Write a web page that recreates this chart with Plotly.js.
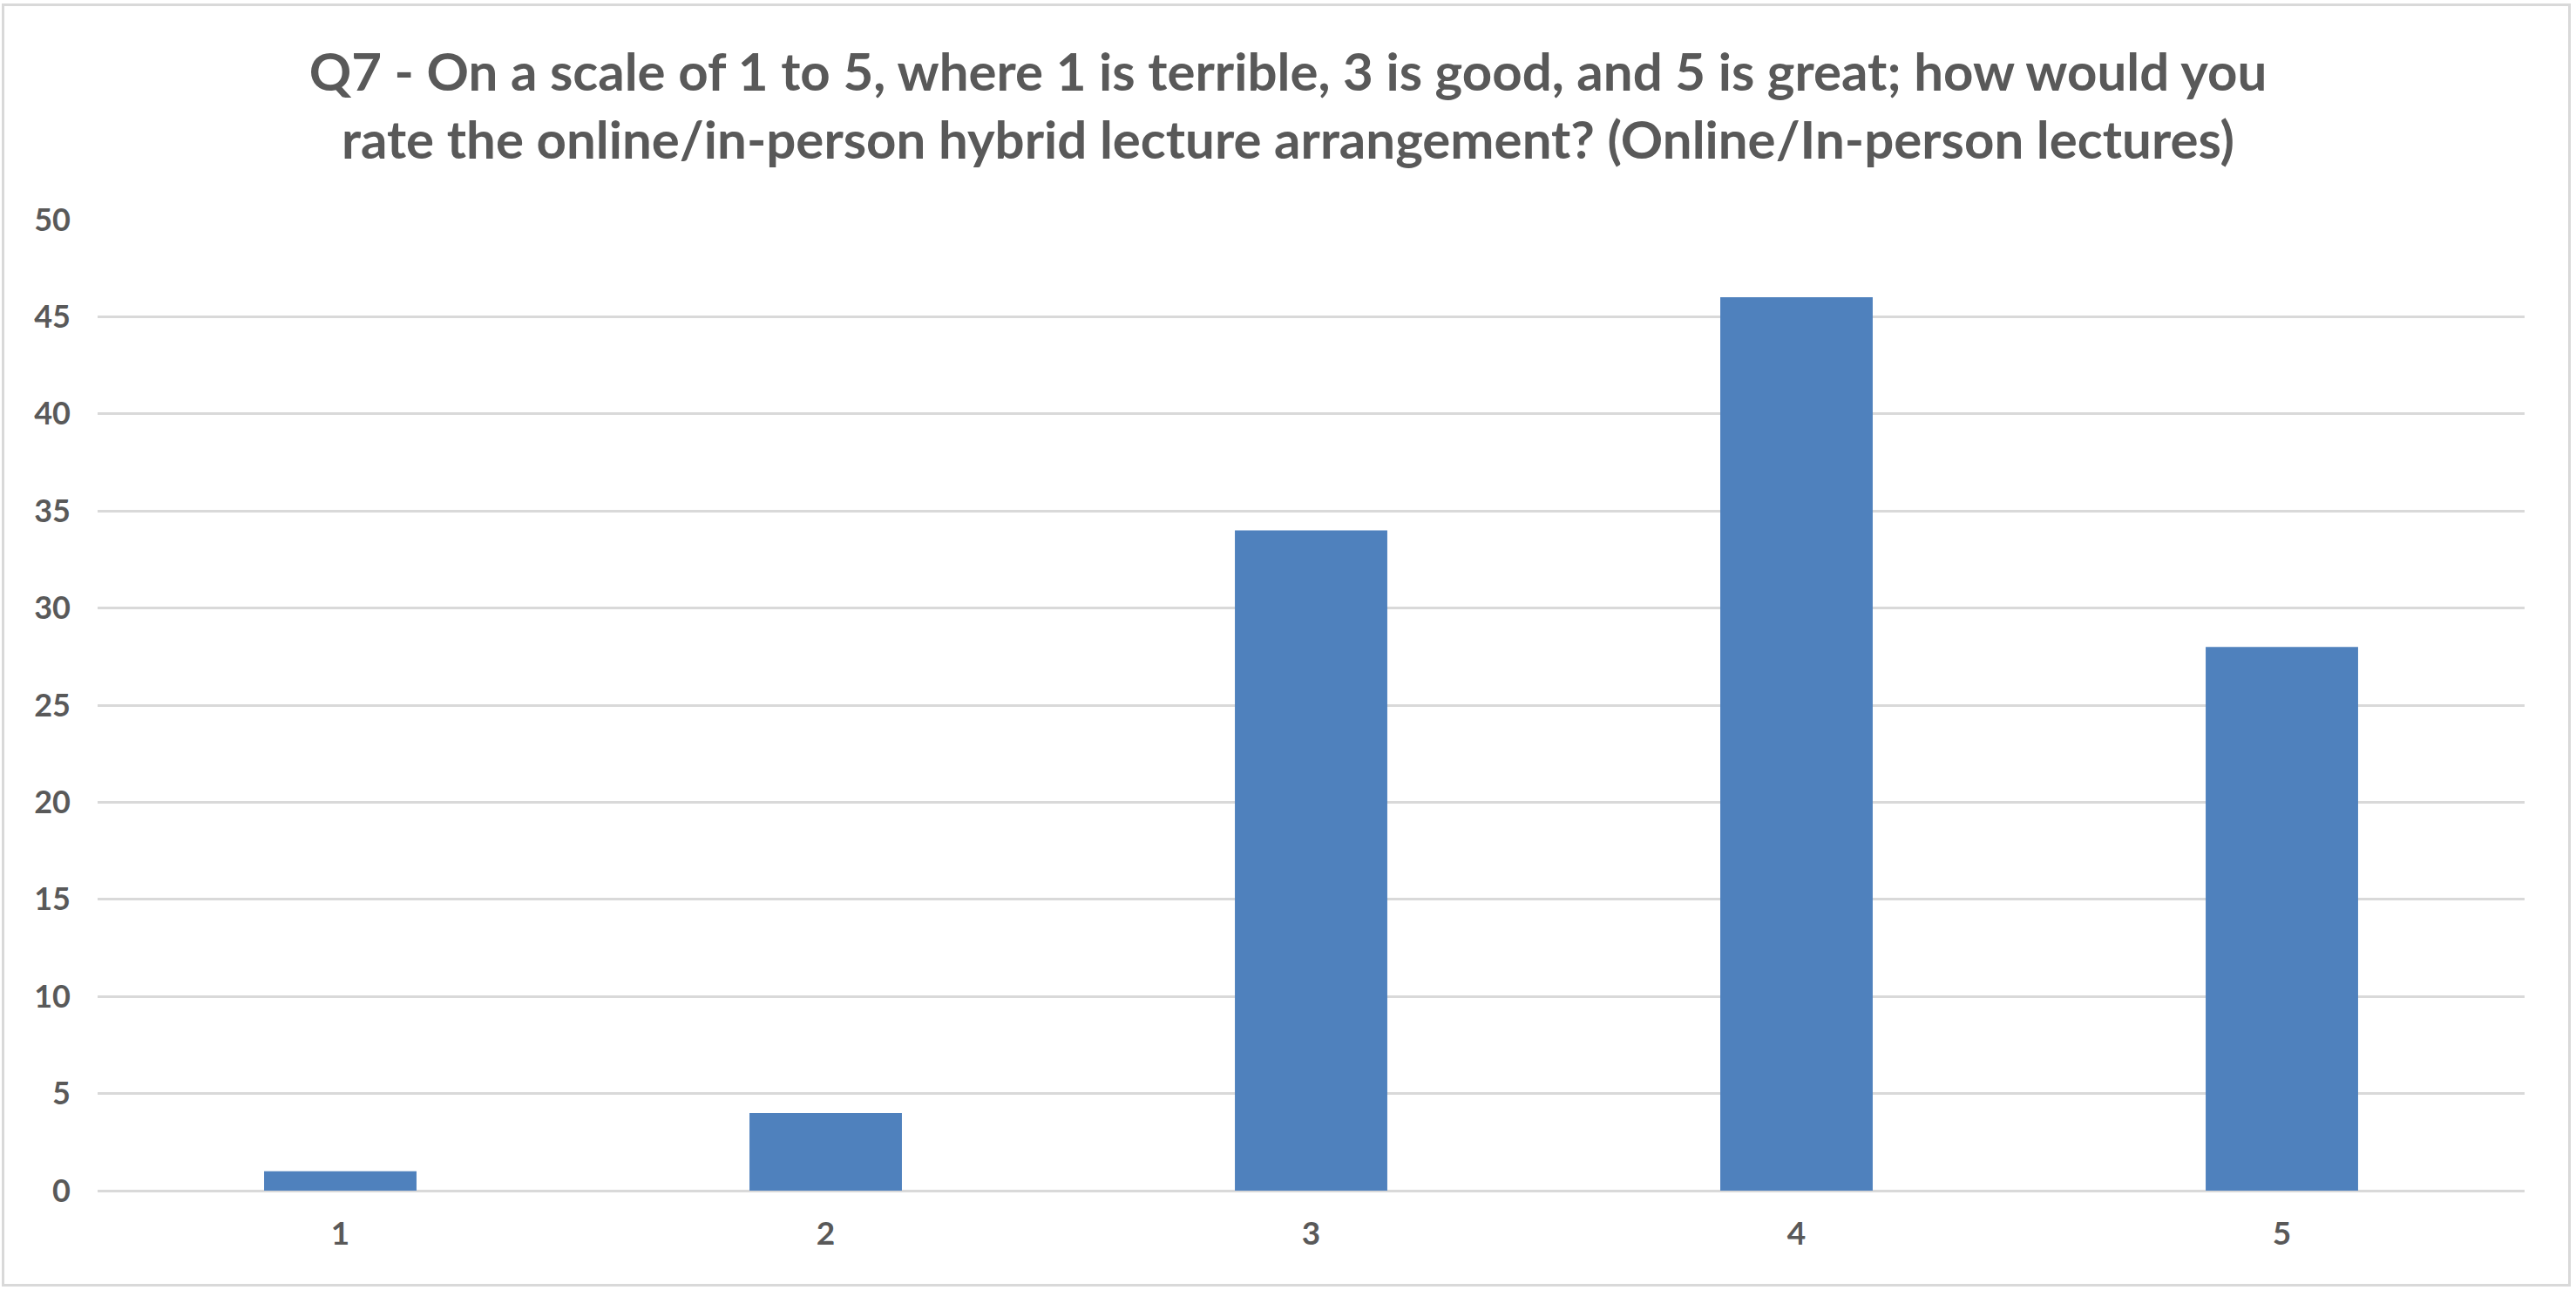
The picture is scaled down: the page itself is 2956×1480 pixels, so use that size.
<!DOCTYPE html>
<html>
<head>
<meta charset="utf-8">
<script src="https://cdn.plot.ly/plotly-3.0.1.min.js"></script>
<style>
  html, body { margin: 0; padding: 0; background: #ffffff; }
  #wrap { position: relative; width: 2956px; height: 1480px; }
  #chart { position: absolute; left: 0; top: 0; width: 2956px; height: 1480px; }
  #frame { position: absolute; left: 2px; top: 4px; width: 2942px; height: 1466px;
           border: 3px solid #d9d9d9; pointer-events: none; }
</style>
</head>
<body>
<div id="wrap">
  <div id="chart"></div>
  <div id="frame"></div>
</div>
<script>
const categories = ["1", "2", "3", "4", "5"];
const counts = [1, 4, 34, 46, 28];
const yTicks = [0, 5, 10, 15, 20, 25, 30, 35, 40, 45, 50];
const titleText = "Q7 - On a scale of 1 to 5, where 1 is terrible, 3 is good, and 5 is great; how would you<br>rate the online/in-person hybrid lecture arrangement? (Online/In-person lectures)";

const textColor = "#595959";
const fontFam = "Lato, 'Open Sans', sans-serif";

const data = [{
  type: "bar",
  x: categories,
  y: counts,
  marker: { color: "#4f81bd", line: { width: 0 } },
  hoverinfo: "x+y"
}];

const layout = {
  width: 2956,
  height: 1480,
  paper_bgcolor: "#ffffff",
  plot_bgcolor: "#ffffff",
  margin: { l: 112, r: 59, t: 252, b: 114, pad: 0 },
  showlegend: false,
  bargap: 0.686,
  title: {
    text: titleText,
    font: { family: fontFam, size: 60, color: textColor, weight: 700 },
    x: 0.5,
    xanchor: "center",
    xref: "container",
    yref: "container",
    y: 1 - 104 / 1480,
    yanchor: "middle"
  },
  xaxis: {
    type: "category",
    showgrid: false,
    zeroline: false,
    showline: false,
    ticks: "",
    ticklabelstandoff: 24,
    tickfont: { family: fontFam, size: 37, color: textColor, weight: 700 }
  },
  yaxis: {
    range: [0, 50],
    tickvals: yTicks,
    ticktext: yTicks.map(String),
    showgrid: true,
    gridcolor: "#d9d9d9",
    gridwidth: 3,
    zeroline: true,
    zerolinecolor: "#d9d9d9",
    zerolinewidth: 3,
    showline: false,
    ticks: "",
    ticklabelstandoff: 30,
    tickfont: { family: fontFam, size: 36, color: textColor, weight: 700 }
  }
};

Plotly.newPlot("chart", data, layout, { displayModeBar: false, staticPlot: true });
</script>
</body>
</html>
